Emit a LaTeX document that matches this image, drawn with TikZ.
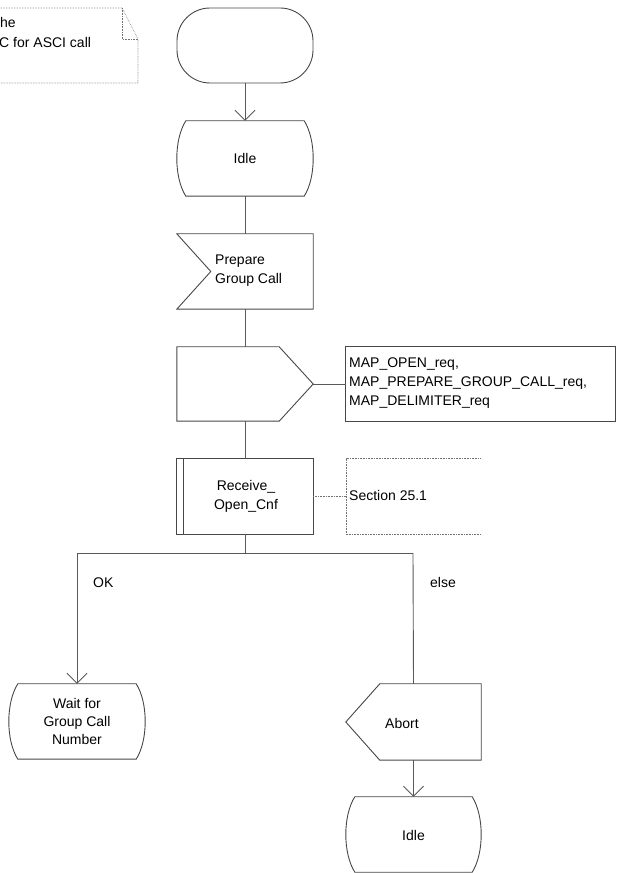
\documentclass[tikz,border=0pt]{standalone}
\usepackage{fontspec}
\setmainfont{Liberation Sans}
\usetikzlibrary{arrows.meta}
\newcommand\SDLstate[1]{%
  \draw[shapeline] ([xshift=9pt]#1.north west) -- ([xshift=-9pt]#1.north east)
    .. controls ([xshift=3pt,yshift=-19pt]#1.north east) and ([xshift=3pt,yshift=19pt]#1.south east) .. ([xshift=-9pt]#1.south east)
    -- ([xshift=9pt]#1.south west)
    .. controls ([xshift=-3pt,yshift=19pt]#1.south west) and ([xshift=-3pt,yshift=-19pt]#1.north west) .. cycle;}
\begin{document}
\begin{tikzpicture}[x=1pt,y=1pt,
  shapeline/.style={draw=black!72,line width=0.9pt},
  flow/.style={draw=black!65,line width=0.9pt},
  vtip/.style={-{Straight Barb[length=10pt,width=20pt,line width=0.8pt]}},
  dotline/.style={draw=black!55,line width=0.6pt,densely dotted},
  box/.style={draw=none,minimum width=136pt,minimum height=75pt,inner sep=0pt},
  txt/.style={font=\fontsize{14}{19}\selectfont,inner sep=0pt,text=black},
]
\useasboundingbox (0,0) rectangle (616,873);

% nodes (geometry)
\node[box,draw=black!72,line width=0.9pt,rounded corners=33pt] (start) at (245,827.5) {};
\node[box] (idle1) at (245,714.5) {};
\node[box] (prep) at (245,601.5) {};
\node[box,minimum height=74pt] (send) at (245,489) {};
\node[box,minimum width=269pt,minimum height=74pt] (msg) at (480.5,489) {};
\node[box] (proc) at (245,376.5) {};
\node[box,minimum width=134pt] (cmt) at (413,376.5) {};
\coordinate (jn) at (245,320);
\coordinate (jl) at (77,320);
\coordinate (jr) at (413,320);
\node[box] (wait) at (77,151.5) {};
\node[box,minimum width=135pt,minimum height=76pt] (abort) at (413.5,151) {};
\node[box,minimum width=135pt] (idle2) at (413.5,38.5) {};

% shapes
\SDLstate{idle1}
\SDLstate{wait}
\SDLstate{idle2}
\draw[shapeline] (prep.north west) -- (prep.north east) -- (prep.south east) -- (prep.south west)
  -- ([xshift=34pt]prep.west) -- cycle;
\draw[shapeline] (send.north west) -- ([xshift=-34pt]send.north east) -- (send.east)
  -- ([xshift=-34pt]send.south east) -- (send.south west) -- cycle;
\draw[shapeline] (msg.north west) rectangle (msg.south east);
\draw[shapeline] (proc.north west) rectangle (proc.south east);
\draw[shapeline] ([xshift=7pt]proc.north west) -- ([xshift=7pt]proc.south west);
\draw[dotline] (cmt.north east) -- (cmt.north west) -- (cmt.south west) -- (cmt.south east);
\draw[shapeline] (abort.west) -- ([xshift=34pt]abort.north west) -- (abort.north east)
  -- (abort.south east) -- ([xshift=34pt]abort.south west) -- cycle;

% note (top left, cut by the page edge)
\coordinate (nA) at (-10,865);
\coordinate (nB) at (122,865);
\coordinate (nC) at (138,834);
\coordinate (nD) at (138,790);
\coordinate (nE) at (-10,790);
\draw[dotline] (nA) -- (nB) -- (nC) -- (nD) -- (nE);
\draw[dotline] (nB) -- (122,834) -- (nC);
\node[txt,anchor=west] (n1) at (0,850) {he};
\node[txt,anchor=west] (n2) at (-1,830) {C for ASCI call};

% texts
\node[txt] (idle1t) at (idle1) {Idle};
\node[txt,align=left,anchor=west] (prept) at (215,602) {Prepare\\Group Call};
\node[txt,align=left,anchor=west] (msgt) at (349,490) {MAP\_OPEN\_req,\\MAP\_PREPARE\_GROUP\_CALL\_req,\\MAP\_DELIMITER\_req};
\node[txt,align=center] (proct) at (246,377) {Receive\_\\Open\_Cnf};
\node[txt,anchor=west] (cmtt) at (349,377) {Section 25.1};
\node[txt,anchor=west] (okt) at (93,290) {OK};
\node[txt,anchor=west] (elset) at (430,291) {else};
\node[txt,align=center,font=\fontsize{14}{18}\selectfont] (waitt) at (77,152) {Wait for\\Group Call\\Number};
\node[txt,anchor=west] (abortt) at (385,150) {Abort};
\node[txt] (idle2t) at (413.5,38) {Idle};

% connectors
\draw[flow,vtip] (start.south) -- (idle1.north);
\draw[flow] (idle1.south) -- (prep.north);
\draw[flow] (prep.south) -- (send.north);
\draw[flow] (send.east) -- (msg.west);
\draw[flow] (send.south) -- (proc.north);
\draw[dotline] (proc.east) -- (cmt.west);
\draw[flow] (proc.south) -- (jn);
\draw[flow] (jl) -- (jr);
\draw[flow,vtip] (jl) -- (wait.north);
\draw[flow] (jr) -- (abort.north);
\draw[flow,vtip] (abort.south) -- (idle2.north);
\end{tikzpicture}
\end{document}
